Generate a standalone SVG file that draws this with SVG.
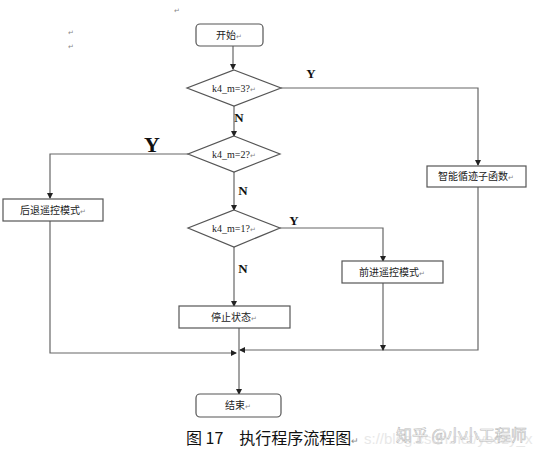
<svg xmlns="http://www.w3.org/2000/svg" width="543" height="451" viewBox="0 0 543 451">
<style>
.box{fill:#fff;stroke:#555;stroke-width:1.2}
.ln{fill:none;stroke:#666;stroke-width:1.2}
.t{font-family:"Noto Sans CJK SC","Liberation Sans",sans-serif;font-size:10px;fill:#222;text-anchor:middle}
.d{font-family:"Liberation Serif",serif;font-size:10px;fill:#222;text-anchor:middle}
.yn{font-family:"Liberation Serif",serif;font-weight:bold;font-size:13px;fill:#111;text-anchor:middle}
.pm{font-family:"Liberation Sans",sans-serif;font-size:7px;fill:#888}
</style>
<defs>
<marker id="ah" markerWidth="6" markerHeight="6" refX="5" refY="3" orient="auto" markerUnits="userSpaceOnUse"><path d="M0,0 L6,3 L0,6 z" fill="#222"/></marker>
</defs>
<rect width="543" height="451" fill="#fff"/>
<text class="pm" x="174" y="13">↵</text>
<text class="pm" x="68" y="35">↵</text>
<text class="pm" x="68" y="49">↵</text>
<g id="connectors">
<path class="ln" d="M233,46 V69" marker-end="url(#ah)"/>
<path class="ln" d="M281,88 H478 V165" marker-end="url(#ah)"/>
<path class="ln" d="M234,106 V136" marker-end="url(#ah)"/>
<path class="ln" d="M188,154 H50 V198" marker-end="url(#ah)"/>
<path class="ln" d="M234,172 V210" marker-end="url(#ah)"/>
<path class="ln" d="M280,228 H383 V261" marker-end="url(#ah)"/>
<path class="ln" d="M234,247 V306" marker-end="url(#ah)"/>
<path class="ln" d="M478,187 V350 H240" marker-end="url(#ah)"/>
<path class="ln" d="M383,283 V350" marker-end="url(#ah)"/>
<path class="ln" d="M50,220 V353 H236" marker-end="url(#ah)"/>
<path class="ln" d="M239,328 V394" marker-end="url(#ah)"/>
<text class="yn" x="311" y="78">Y</text>
<text class="yn" x="239" y="122">N</text>
<text class="yn" x="152" y="152" style="font-size:22px">Y</text>
<text class="yn" x="243" y="195">N</text>
<text class="yn" x="294" y="225">Y</text>
<text class="yn" x="243" y="273">N</text>
</g>
<g id="start"><rect class="box" x="196" y="24" width="67" height="22" rx="4"/><text class="t" x="229" y="39">开始<tspan class="pm">↵</tspan></text></g>
<g id="dec1"><polygon class="box" points="234,70 281,88 234,106 187,88"/><text class="d" x="234" y="92">k4_m=3?<tspan class="pm">↵</tspan></text></g>
<g id="smart"><rect class="box" x="427" y="166" width="99" height="21"/><text class="t" x="476" y="180">智能循迹子函数<tspan class="pm">↵</tspan></text></g>
<g id="dec2"><polygon class="box" points="234,136 280,154 234,172 188,154"/><text class="d" x="234" y="158">k4_m=2?<tspan class="pm">↵</tspan></text></g>
<g id="back"><rect class="box" x="3" y="199" width="100" height="22"/><text class="t" x="53" y="214">后退遥控模式<tspan class="pm">↵</tspan></text></g>
<g id="dec3"><polygon class="box" points="234,210 280,228 234,247 188,228"/><text class="d" x="234" y="232">k4_m=1?<tspan class="pm">↵</tspan></text></g>
<g id="fwd"><rect class="box" x="342" y="261" width="101" height="22"/><text class="t" x="392" y="276">前进遥控模式<tspan class="pm">↵</tspan></text></g>
<g id="stop"><rect class="box" x="179" y="306" width="111" height="22"/><text class="t" x="234" y="321">停止状态<tspan class="pm">↵</tspan></text></g>
<g id="end"><rect class="box" x="196" y="394" width="85" height="23" rx="4"/><text class="t" x="238" y="409">结束<tspan class="pm">↵</tspan></text></g>
<text x="364" y="444" style="font-family:'Liberation Sans',sans-serif;font-size:15px;fill:#e8e8e8">s://blog.csdn.net/yeezy_x</text>
<text x="186" y="444" style="font-family:'Noto Sans CJK SC',sans-serif;font-size:16px;fill:#111">图 17　执行程序流程图<tspan style="font-size:9px;fill:#888">↵</tspan></text>
<text x="396" y="441" style="font-family:'Noto Sans CJK SC',sans-serif;font-size:16px;fill:#fff;fill-opacity:0.6;stroke:#bbb;stroke-width:0.6">知乎 @小小工程师</text>
</svg>
